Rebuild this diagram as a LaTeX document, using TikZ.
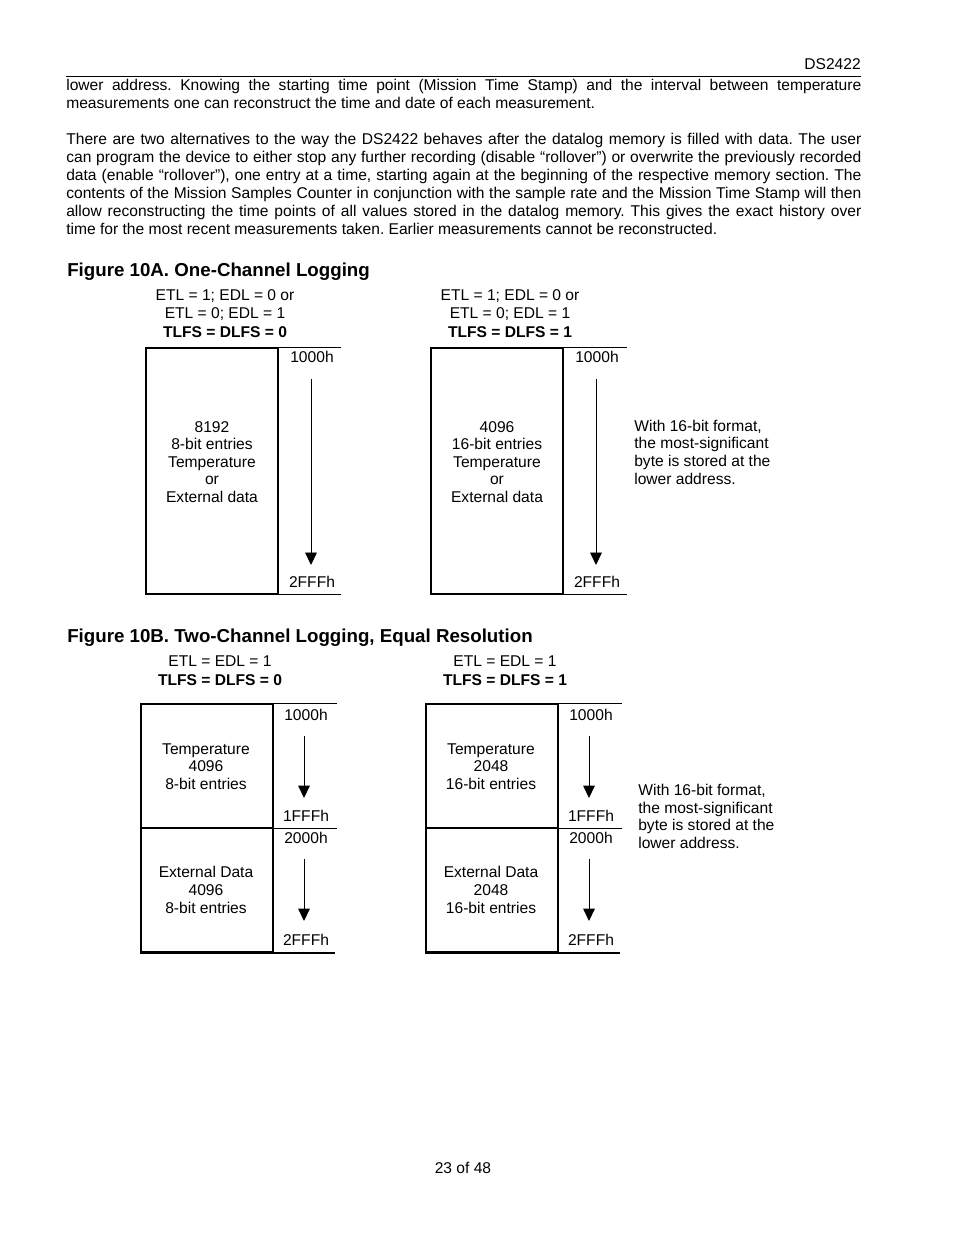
\documentclass[tikz,border=0pt]{standalone}
\usepackage{fontspec}
\setmainfont{Liberation Sans}
\usetikzlibrary{arrows.meta}
\newlength{\pxl}
\setlength{\pxl}{0.6413pt}
\newcommand{\jline}[1]{\makebox[795\pxl][s]{#1}}
\frenchspacing

\begin{document}
\begin{tikzpicture}[x=0.6413pt,y=-0.6413pt,
  body/.style={inner sep=0pt,font=\fontsize{10}{11.54}\selectfont,align=left,anchor=base west},
  lbl/.style={inner sep=0pt,font=\fontsize{10}{11.3}\selectfont,align=center},
  hdr/.style={inner sep=0pt,font=\fontsize{10}{11.8}\selectfont,align=center,anchor=base},
  note/.style={inner sep=0pt,font=\fontsize{10}{11.3}\selectfont,align=left,anchor=base west},
  head/.style={inner sep=0pt,font=\fontsize{12}{14}\selectfont\bfseries,anchor=base west},
  mem/.style={draw,line width=0.75pt,minimum width=132\pxl,inner sep=0pt},
  col/.style={line width=0.75pt},
  down/.style={-{Triangle[width=7.5pt,length=8pt]},line width=0.6pt}]
\useasboundingbox (0,0) rectangle (954,1235);
% page head (multi-line nodes: base = last line)
\node[inner sep=0pt,font=\fontsize{10}{12}\selectfont,anchor=base east] (pghead) at (861,69.5) {DS2422};
\draw[line width=0.6pt] (66,76) -- (861,76);
\node[body] (par1) at (66,108.5) {\jline{lower address. Knowing the starting time point (Mission Time Stamp) and the interval between temperature}\\
measurements one can reconstruct the time and date of each measurement.};
\node[body] (par2) at (66,234.5) {\jline{There are two alternatives to the way the DS2422 behaves after the datalog memory is filled with data. The user}\\
\jline{can program the device to either stop any further recording (disable “rollover”) or overwrite the previously recorded}\\
\jline{data (enable “rollover”), one entry at a time, starting again at the beginning of the respective memory section. The}\\
\jline{contents of the Mission Samples Counter in conjunction with the sample rate and the Mission Time Stamp will then}\\
\jline{allow reconstructing the time points of all values stored in the datalog memory. This gives the exact history over}\\
time for the most recent measurements taken. Earlier measurements cannot be reconstructed.};

% Figure 10A
\node[head] (figA) at (67,276.5) {Figure 10A. One-Channel Logging};
% left
\node[hdr] (hdrA) at (225,337) {ETL = 1; EDL = 0 or\\ETL = 0; EDL = 1\\\textbf{TLFS = DLFS = 0}};
\node[mem,minimum height=246\pxl] (memA) at (212,471) {};
\draw[col] (memA.north east) -- ++(62,0);
\draw[col] (memA.south east) -- ++(62,0);
\node[lbl,anchor=base] (txtA) at (212,502.5) {8192\\8-bit entries\\Temperature\\or\\External data};
\node[lbl] (topA) at (312,356.5) {1000h};
\node[lbl] (botA) at (312,581.5) {2FFFh};
\coordinate (sA) at (311,379);
\coordinate (eA) at (311,565);
\draw[down] (sA) -- (eA);
% right
\node[hdr] (hdrAA) at (510,337) {ETL = 1; EDL = 0 or\\ETL = 0; EDL = 1\\\textbf{TLFS = DLFS = 1}};
\node[mem,minimum height=246\pxl] (memAA) at (497,471) {};
\draw[col] (memAA.north east) -- ++(63,0);
\draw[col] (memAA.south east) -- ++(63,0);
\node[lbl,anchor=base] (txtAA) at (497,502.5) {4096\\16-bit entries\\Temperature\\or\\External data};
\node[lbl] (topAA) at (597,356.5) {1000h};
\node[lbl] (botAA) at (597,581.5) {2FFFh};
\coordinate (sAA) at (596,379);
\coordinate (eAA) at (596,565);
\draw[down] (sAA) -- (eAA);
\node[note] (noteA) at (634,484) {With 16-bit format,\\the most-significant\\byte is stored at the\\lower address.};

% Figure 10B
\node[head] (figB) at (67,642.5) {Figure 10B. Two-Channel Logging, Equal Resolution};
% left
\node[hdr] (hdrB) at (220,685) {ETL = EDL = 1\\\textbf{TLFS = DLFS = 0}};
\node[mem,minimum height=124\pxl] (memB1) at (207,766) {};
\node[mem,minimum height=124\pxl] (memB2) at (207,890) {};
\draw[col] (memB1.north east) -- ++(63,0);
\draw[col] (memB1.south east) -- ++(63,0);
\draw[line width=1.3pt] (memB2.south west) -- ++(195,0);
\node[lbl,anchor=base] (txtB1) at (206,789.5) {Temperature\\4096\\8-bit entries};
\node[lbl,anchor=base] (txtB2) at (206,913) {External Data\\4096\\8-bit entries};
\node[lbl] (topB1) at (306,715) {1000h};
\node[lbl] (botB1) at (306,816) {1FFFh};
\node[lbl] (topB2) at (306,838) {2000h};
\node[lbl] (botB2) at (306,940) {2FFFh};
\coordinate (sB1) at (304,736);
\coordinate (eB1) at (304,798);
\coordinate (sB2) at (304,859);
\coordinate (eB2) at (304,921);
\draw[down] (sB1) -- (eB1);
\draw[down] (sB2) -- (eB2);
% right
\node[hdr] (hdrBB) at (505,685) {ETL = EDL = 1\\\textbf{TLFS = DLFS = 1}};
\node[mem,minimum height=124\pxl] (memBB1) at (492,766) {};
\node[mem,minimum height=124\pxl] (memBB2) at (492,890) {};
\draw[col] (memBB1.north east) -- ++(63,0);
\draw[col] (memBB1.south east) -- ++(63,0);
\draw[line width=1.3pt] (memBB2.south west) -- ++(195,0);
\node[lbl,anchor=base] (txtBB1) at (491,789.5) {Temperature\\2048\\16-bit entries};
\node[lbl,anchor=base] (txtBB2) at (491,913) {External Data\\2048\\16-bit entries};
\node[lbl] (topBB1) at (591,715) {1000h};
\node[lbl] (botBB1) at (591,816) {1FFFh};
\node[lbl] (topBB2) at (591,838) {2000h};
\node[lbl] (botBB2) at (591,940) {2FFFh};
\coordinate (sBB1) at (589,736);
\coordinate (eBB1) at (589,798);
\coordinate (sBB2) at (589,859);
\coordinate (eBB2) at (589,921);
\draw[down] (sBB1) -- (eBB1);
\draw[down] (sBB2) -- (eBB2);
\node[note] (noteB) at (638,848.5) {With 16-bit format,\\the most-significant\\byte is stored at the\\lower address.};

% page foot
\node[inner sep=0pt,font=\fontsize{10}{12}\selectfont,anchor=base] (pgfoot) at (463,1173.5) {23 of 48};
\end{tikzpicture}
\end{document}
